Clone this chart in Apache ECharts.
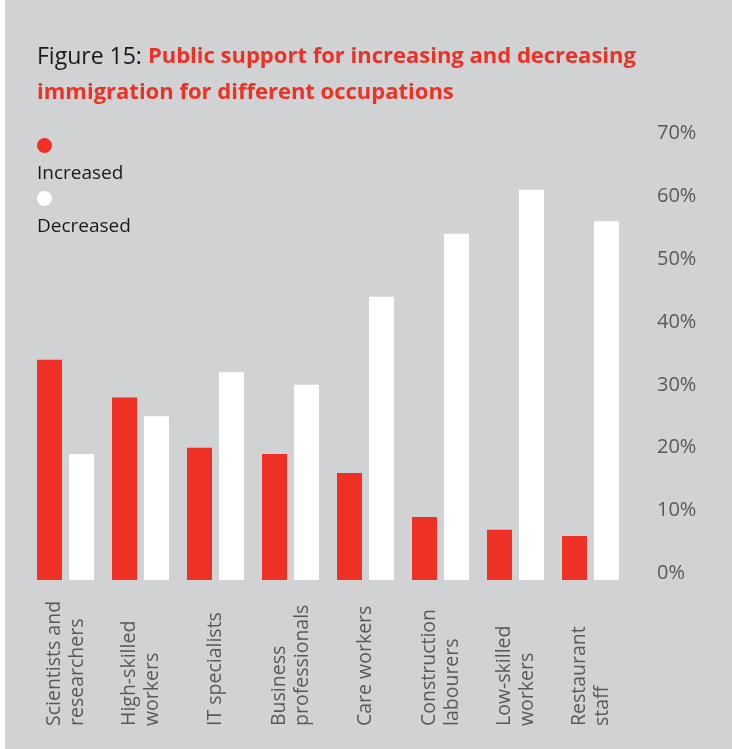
<!DOCTYPE html>
<html>
<head>
<meta charset="utf-8">
<script src="https://cdn.jsdelivr.net/npm/echarts@6/dist/echarts.min.js"></script>
<style>
  body { margin: 0; background: #ffffff; }
  #chart { margin-left: 5px; width: 727px; height: 749px; }
</style>
</head>
<body>
<div id="chart"></div>
<script>
// occupations, in chart order
const occupations = [
  'Scientists and\nresearchers',
  'High-skilled\nworkers',
  'IT specialists',
  'Business\nprofessionals',
  'Care workers',
  'Construction\nlabourers',
  'Low-skilled\nworkers',
  'Restaurant\nstaff'
];
// % wanting immigration increased / decreased
const increased = [34, 28, 20, 19, 16, 9, 7, 6];
const decreased = [19, 25, 32, 30, 44, 54, 61, 56];
const yTicks = [0, 10, 20, 30, 40, 50, 60, 70];

const RED = '#ee3124';
const GREY_TXT = '#58595b';

let myChart = echarts.init(document.getElementById('chart'));
let option = {
  backgroundColor: '#d1d2d4',
  textStyle: { fontFamily: 'Open Sans' },
  title: {
    left: 32,
    top: 39,
    padding: 0,
    text: '{k|Figure 15: }{r|Public support for increasing and decreasing}\n{r|immigration for different occupations}',
    textStyle: {
      rich: {
        k: { fontSize: 23, color: '#1a1a1a', fontWeight: 'normal', lineHeight: 36, fontFamily: 'Open Sans' },
        r: { fontSize: 22, color: RED, fontWeight: 'bold', lineHeight: 36, fontFamily: 'Open Sans' }
      }
    }
  },
  legend: {
    orient: 'vertical',
    left: 27,
    top: 138,
    padding: 0,
    itemGap: 8,
    itemWidth: 0,
    itemHeight: 0,
    icon: 'rect',
    selectedMode: false,
    data: ['Increased', 'Decreased'],
    formatter: function (name) {
      return (name === 'Increased' ? '{r| }' : '{w| }') + '\n{t|' + name + '}';
    },
    textStyle: {
      rich: {
        r: { width: 15, height: 15, borderRadius: 8, backgroundColor: RED, lineHeight: 27 },
        w: { width: 15, height: 15, borderRadius: 8, backgroundColor: '#ffffff', lineHeight: 27 },
        t: { fontSize: 19, color: '#1a1a1a', lineHeight: 27, padding: [2, 0, 0, 0], fontFamily: 'Open Sans' }
      }
    }
  },
  grid: { left: 23, right: 104, top: 133, bottom: 169 },
  xAxis: {
    type: 'category',
    data: occupations,
    axisLine: { show: false },
    axisTick: { show: false },
    axisLabel: {
      rotate: 90,
      align: 'left',
      verticalAlign: 'middle',
      margin: 146,
      interval: 0,
      fontSize: 19.5,
      lineHeight: 23,
      color: GREY_TXT
    }
  },
  yAxis: {
    type: 'value',
    position: 'right',
    min: -1,
    max: 70,
    startValue: -1,
    splitLine: { show: false },
    axisLine: { show: false },
    axisTick: { show: false },
    axisLabel: {
      customValues: yTicks,
      margin: 29,
      fontSize: 20,
      color: GREY_TXT,
      formatter: '{value}%'
    }
  },
  series: [
    {
      name: 'Increased',
      type: 'bar',
      data: increased,
      barWidth: 25,
      barGap: '28%',
      itemStyle: { color: RED },
      emphasis: { disabled: true }
    },
    {
      name: 'Decreased',
      type: 'bar',
      data: decreased,
      barWidth: 25,
      barGap: '28%',
      itemStyle: { color: '#ffffff' },
      emphasis: { disabled: true }
    }
  ]
};
myChart.setOption(option);
</script>
</body>
</html>
